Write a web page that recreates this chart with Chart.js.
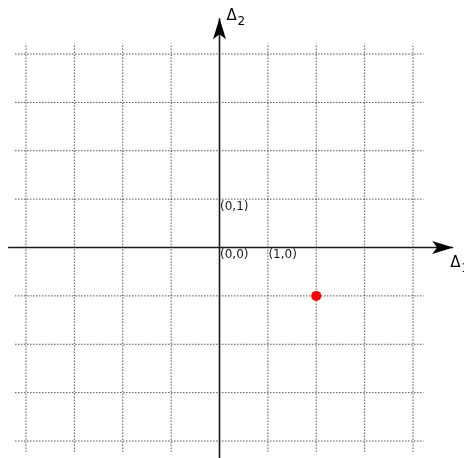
<!DOCTYPE html>
<html>
<head>
<meta charset="utf-8">
<script src="https://cdn.jsdelivr.net/npm/chart.js@4/dist/chart.umd.min.js"></script>
<style>
  html, body { margin: 0; padding: 0; background: #fff; }
  #chart { display: block; }
</style>
</head>
<body>
<canvas id="chart" width="464" height="458"></canvas>
<script>
// ============================================================
// Data
// ============================================================
const GRID_TICKS = [-4, -3, -2, -1, 1, 2, 3, 4];
const GRID_EXTENT = 4.22;
const AXIS_X = [-4.37, 4.83];       // start, arrow tip
const AXIS_Y = [-4.5, 4.74];
const POINT_LABELS = ['(0,0)', '(1,0)', '(0,1)'];
const POINT_LABEL_POS = [[0, 0], [1, 0], [0, 1]];
const RED_POINTS = [{ x: 2, y: -1 }];
const AXIS_NAMES = ['Δ', 'Δ'];
const AXIS_SUBS = ['1', '2'];

const FONT = "'DejaVu Sans', sans-serif";
const INK = '#1a1a1a';

// ============================================================
// Datasets
// ============================================================
const gridSets = [];
GRID_TICKS.forEach(k => {
  gridSets.push({
    data: [{ x: k, y: -GRID_EXTENT }, { x: k, y: GRID_EXTENT }],
    showLine: true, pointRadius: 0, borderColor: '#000', borderWidth: 1,
    borderDash: [1, 2], order: 3,
  });
  gridSets.push({
    data: [{ x: -GRID_EXTENT, y: k }, { x: GRID_EXTENT, y: k }],
    showLine: true, pointRadius: 0, borderColor: '#000', borderWidth: 1,
    borderDash: [1, 2], order: 3,
  });
});

const axisSets = [
  { id: 'ax', data: [{ x: AXIS_X[0], y: 0 }, { x: AXIS_X[1], y: 0 }] },
  { id: 'ay', data: [{ x: 0, y: AXIS_Y[0] }, { x: 0, y: AXIS_Y[1] }] },
].map(a => ({
  label: a.id, data: a.data, showLine: true, pointRadius: 0,
  borderColor: INK, borderWidth: 1.6, order: 2,
}));

const pointSet = {
  data: RED_POINTS, pointRadius: 5, pointHoverRadius: 5,
  backgroundColor: '#ff0000', borderWidth: 0, order: 0,
};

// ============================================================
// Plugin: arrow heads and texts
// ============================================================
function arrowHead(ctx, tx, ty, dx, dy) {
  const len = 21, half = 6.5, notch = 5;
  const px = -dy, py = dx;
  const bx = tx - dx * len, by = ty - dy * len;
  ctx.beginPath();
  ctx.moveTo(tx, ty);
  ctx.lineTo(bx + px * half, by + py * half);
  ctx.lineTo(tx - dx * (len - notch), ty - dy * (len - notch));
  ctx.lineTo(bx - px * half, by - py * half);
  ctx.closePath();
  ctx.fill();
}

const decorPlugin = {
  id: 'decor',
  afterDatasetsDraw(chart) {
    const { ctx, scales: { x, y } } = chart;
    ctx.save();
    ctx.fillStyle = '#000';

    const x0 = x.getPixelForValue(0), y0 = y.getPixelForValue(0);
    const xTip = x.getPixelForValue(AXIS_X[1]);
    const yTip = y.getPixelForValue(AXIS_Y[1]);
    arrowHead(ctx, xTip, y0, 1, 0);
    arrowHead(ctx, x0, yTip, 0, -1);

    // point labels
    ctx.fillStyle = INK;
    ctx.font = '12px ' + FONT;
    ctx.textAlign = 'left';
    ctx.textBaseline = 'top';
    POINT_LABELS.forEach((t, i) => {
      const [vx, vy] = POINT_LABEL_POS[i];
      ctx.fillText(t, x.getPixelForValue(vx) + 0.5, y.getPixelForValue(vy) + 1.5);
    });

    // axis names with subscripts
    ctx.fillStyle = '#000';
    ctx.textBaseline = 'alphabetic';
    ctx.font = '15px ' + FONT;
    ctx.fillText(AXIS_NAMES[0], xTip - 3, y0 + 19);
    ctx.fillText(AXIS_NAMES[1], x0 + 7, yTip + 2);
    ctx.font = '12px ' + FONT;
    ctx.fillText(AXIS_SUBS[0], xTip + 8, y0 + 24);
    ctx.fillText(AXIS_SUBS[1], x0 + 18, yTip + 7);
    ctx.restore();
  },
};

// ============================================================
// Chart
// ============================================================
const UNIT = 48.375, OX = 219.5, OY = 247.5, W = 464, H = 458;

new Chart(document.getElementById('chart').getContext('2d'), {
  type: 'scatter',
  data: { datasets: [pointSet, ...axisSets, ...gridSets] },
  options: {
    responsive: false,
    animation: false,
    devicePixelRatio: 1,
    layout: { padding: 0, autoPadding: false },
    plugins: { legend: { display: false }, tooltip: { enabled: false } },
    scales: {
      x: { type: 'linear', display: false, min: -OX / UNIT, max: (W - OX) / UNIT },
      y: { type: 'linear', display: false, min: -(H - OY) / UNIT, max: OY / UNIT },
    },
  },
  plugins: [decorPlugin],
});
</script>
</body>
</html>
